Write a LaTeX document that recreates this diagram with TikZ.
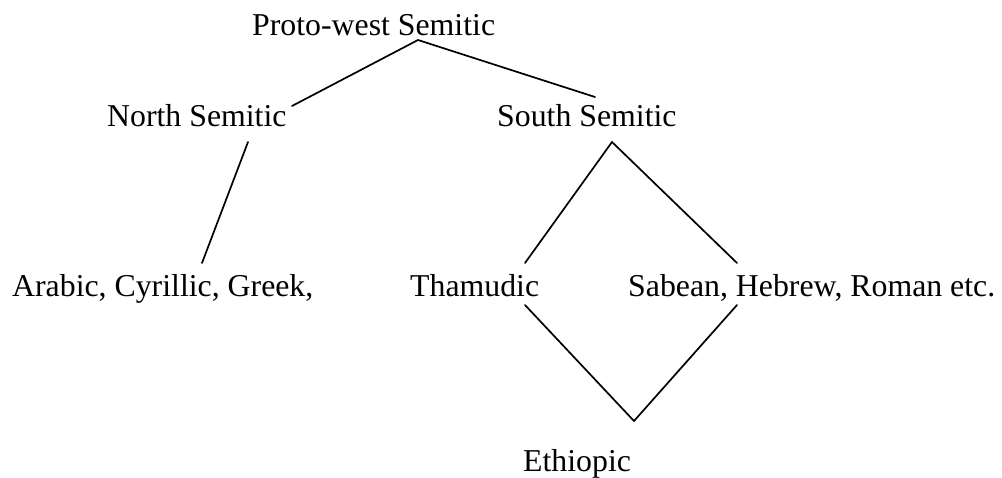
\documentclass[tikz,border=0pt]{standalone}
\usepackage{fontspec}
\setmainfont{Liberation Serif}
\begin{document}
\begin{tikzpicture}[x=1pt,y=-1pt,
  lang/.style={anchor=base west,inner sep=0pt,font=\fontsize{31.8}{36}\selectfont},
  branch/.style={line width=1.7pt,line cap=round}]
\useasboundingbox (0,0) rectangle (1002,477);
% language names
\node[lang] (proto)  at (252,35)  {Proto-west Semitic};
\node[lang] (north)  at (107,126) {North Semitic};
\node[lang] (south)  at (497,126) {South Semitic};
\node[lang] (arabic) at (12,296)  {Arabic, Cyrillic, Greek,};
\node[lang] (tham)   at (410,296) {Thamudic};
\node[lang] (sabean) at (628,296) {Sabean, Hebrew, Roman etc.};
\node[lang] (ethio)  at (523,471) {Ethiopic};
% branch end points
\coordinate (protoB)  at (418,40);
\coordinate (northT)  at (292,106);
\coordinate (southT)  at (595,97);
\coordinate (northB)  at (248,142);
\coordinate (arabicT) at (202,263);
\coordinate (southB)  at (612,142);
\coordinate (thamT)   at (525,263);
\coordinate (sabeanT) at (737,263);
\coordinate (thamB)   at (525,305);
\coordinate (sabeanB) at (737,305);
\coordinate (ethioT)  at (634,421);
% branches
\draw[branch] (northT) -- (protoB) -- (southT);
\draw[branch] (northB) -- (arabicT);
\draw[branch] (thamT) -- (southB) -- (sabeanT);
\draw[branch] (thamB) -- (ethioT) -- (sabeanB);
\end{tikzpicture}
\end{document}
